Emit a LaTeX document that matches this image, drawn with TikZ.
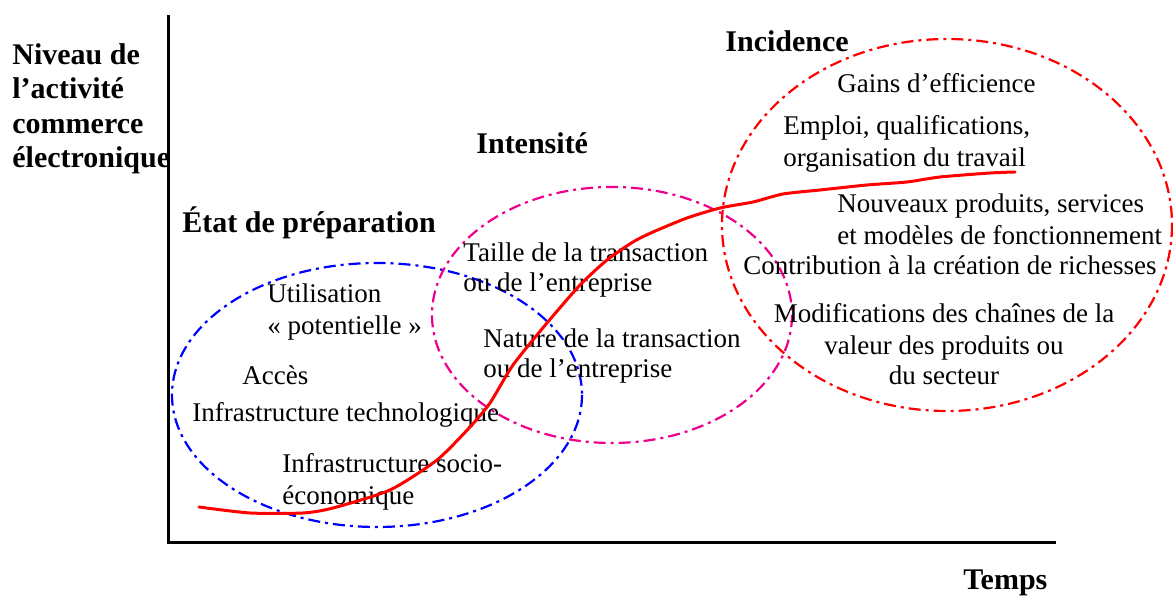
\documentclass[tikz,border=0pt]{standalone}
\usepackage{fontspec}
\setmainfont{Liberation Serif}
\begin{document}
\begin{tikzpicture}[x=0.5pt,y=-0.5pt,
  lbl/.style={inner sep=0pt,anchor=base west,font=\fontsize{13.5pt}{15.5pt}\selectfont},
  clbl/.style={inner sep=0pt,anchor=base,font=\fontsize{13.5pt}{15.5pt}\selectfont},
  head/.style={inner sep=0pt,anchor=base west,font=\fontsize{15pt}{17pt}\selectfont\bfseries},
  axis/.style={line width=1.5pt,black},
  zone/.style={line width=1.1pt,dash pattern=on 6pt off 2.5pt on 1.5pt off 2.5pt},
  curve/.style={line width=1.5pt,red,line join=round,line cap=round}]
\useasboundingbox (0,0) rectangle (1173,597);
% axes
\coordinate (o) at (168,543);
\coordinate (ytop) at (168,15);
\coordinate (xend) at (1056,543);
\draw[axis] (ytop) -- (o) -- (xend);
% zones
\draw[zone,blue] (377,395) ellipse [x radius=205,y radius=132];
\draw[zone,magenta] (612,315) ellipse [x radius=180,y radius=128];
\draw[zone,red] (947,225) ellipse [x radius=225,y radius=186];
% axis labels
\node[head] (y1) at (12,65) {Niveau de};
\node[head] (y2) at (12,99) {l’activité};
\node[head] (y3) at (12,134) {commerce};
\node[head] (y4) at (12,168) {électronique};
\node[head] (temps) at (963,590) {Temps};
% headings
\node[head] (h1) at (182,233) {État de préparation};
\node[head] (h2) at (476,154) {Intensité};
\node[head] (h3) at (725,52) {Incidence};
% blue zone
\node[lbl] (b1) at (267,303) {Utilisation};
\node[lbl] (b2) at (267,335) {« potentielle »};
\node[lbl] (b3) at (242,385) {Accès};
\node[lbl] (b4) at (192,422) {Infrastructure technologique};
\node[lbl] (b5) at (282,473) {Infrastructure socio-};
\node[lbl] (b6) at (282,505) {économique};
% pink zone
\node[lbl] (p1) at (463,262) {Taille de la transaction};
\node[lbl] (p2) at (463,292) {ou de l’entreprise};
\node[lbl] (p3) at (483,348) {Nature de la transaction};
\node[lbl] (p4) at (483,378) {ou de l’entreprise};
% red zone
\node[lbl] (r1) at (837,93) {Gains d’efficience};
\node[lbl] (r2) at (783,135) {Emploi, qualifications,};
\node[lbl] (r3) at (783,167) {organisation du travail};
\node[lbl] (r4) at (837,213) {Nouveaux produits, services};
\node[lbl] (r5) at (837,245) {et modèles de fonctionnement};
\node[lbl] (r6) at (743,275) {Contribution à la création de richesses};
\node[clbl] (r7) at (944,323) {Modifications des chaînes de la};
\node[clbl] (r8) at (944,355) {valeur des produits ou};
\node[clbl] (r9) at (944,385) {du secteur};
% growth curve
\draw[curve] plot[smooth,tension=0.4] coordinates {(199,507) (250,513) (303,513) (333,508) (390,490) (437,460) (470,427) (490,403) (513,365) (547,323) (580,285) (607,260) (633,242) (653,232) (687,218) (720,208) (753,202) (783,194) (820,190) (867,185) (907,182) (940,177) (990,173) (1015,172)};
\end{tikzpicture}
\end{document}
